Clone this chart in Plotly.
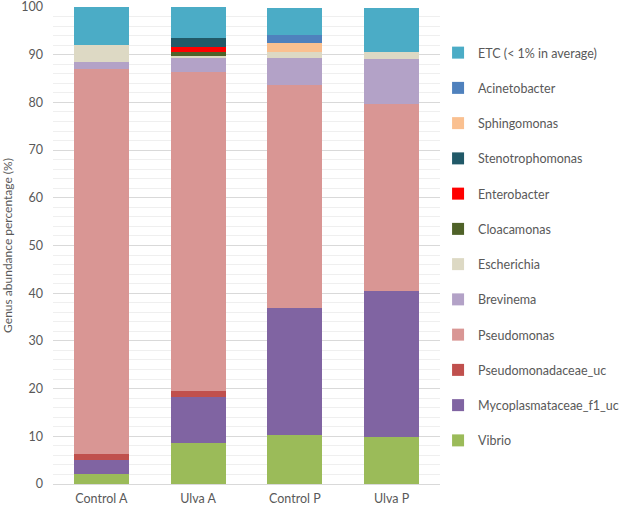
import plotly.graph_objects as go

categories = ["Control A", "Ulva A", "Control P", "Ulva P"]

genera = ["Vibrio", "Mycoplasmataceae_f1_uc", "Pseudomonadaceae_uc", "Pseudomonas",
          "Brevinema", "Escherichia", "Cloacamonas", "Enterobacter",
          "Stenotrophomonas", "Sphingomonas", "Acinetobacter", "ETC (< 1% in average)"]

vibrio = [2.1, 8.7, 10.3, 9.8]
mycoplasmataceae = [2.9, 9.6, 26.7, 30.6]
pseudomonadaceae_uc = [1.3, 1.2, 0.0, 0.0]
pseudomonas = [80.8, 66.8, 46.6, 39.2]
brevinema = [1.4, 3.2, 5.7, 9.6]
escherichia = [3.6, 0.3, 1.2, 1.3]
cloacamonas = [0.0, 0.8, 0.0, 0.0]
enterobacter = [0.0, 1.1, 0.0, 0.0]
stenotrophomonas = [0.0, 1.8, 0.0, 0.0]
sphingomonas = [0.0, 0.0, 2.0, 0.0]
acinetobacter = [0.0, 0.0, 1.7, 0.0]
etc = [7.9, 6.5, 5.5, 9.2]

series = [vibrio, mycoplasmataceae, pseudomonadaceae_uc, pseudomonas, brevinema,
          escherichia, cloacamonas, enterobacter, stenotrophomonas, sphingomonas,
          acinetobacter, etc]

colors = ["#9BBB59", "#8064A2", "#C0504D", "#D99694", "#B3A2C7", "#DDD9C4",
          "#4F6228", "#FF0000", "#215968", "#FAC090", "#4F81BD", "#4BACC6"]

fig = go.Figure()
n = len(genera)
for i, (name, vals, col) in enumerate(zip(genera, series, colors)):
    fig.add_trace(go.Bar(x=categories, y=vals, name=name, marker_color=col,
                         marker_line_width=0, legendgroup=name,
                         legendrank=1000 + (n - i)))

font_family = "Lato, 'Open Sans', sans-serif"
fig.update_layout(
    barmode="stack",
    bargap=0.43,
    width=633, height=506,
    margin=dict(l=53, r=193, t=7, b=22, autoexpand=False),
    plot_bgcolor="white", paper_bgcolor="white",
    font=dict(family=font_family, size=12.5, color="#595959"),
    legend=dict(traceorder="grouped", tracegroupgap=16,
                x=0.995, xanchor="left", y=0.935, yanchor="top",
                font=dict(size=12.5, color="#595959"), itemwidth=30,
                bgcolor="rgba(0,0,0,0)"),
    yaxis=dict(range=[0, 100], dtick=10, showgrid=True, gridcolor="#D9D9D9",
               gridwidth=1, zeroline=False, ticks="", tickfont=dict(size=12.5),
               ticklabelstandoff=9, ticklabeloverflow="allow",
               minor=dict(dtick=2, showgrid=True, gridcolor="#EFEFEF", gridwidth=1),
               title=dict(text="Genus abundance percentage (%)", font=dict(size=12),
                          standoff=7)),
    xaxis=dict(showline=True, linecolor="#D9D9D9", linewidth=1, ticks="",
               tickfont=dict(size=12.5), ticklabelstandoff=3,
               ticklabeloverflow="allow"),
)

fig.write_html("out.html", config={"displayModeBar": False},
               post_script="document.body.style.margin='0';")
